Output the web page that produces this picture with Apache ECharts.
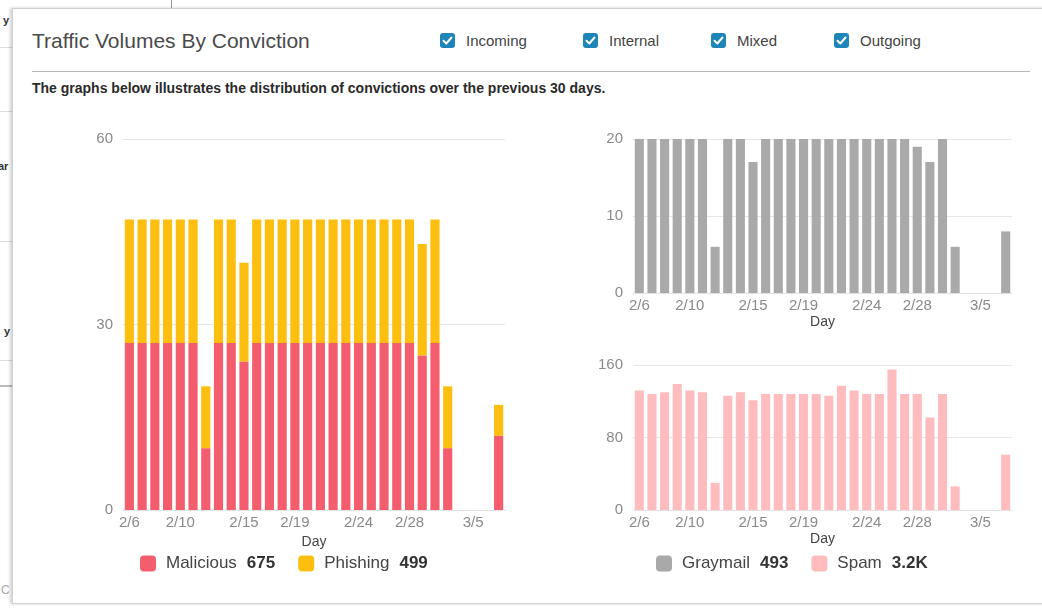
<!DOCTYPE html>
<html>
<head>
<meta charset="utf-8">
<script src="https://cdn.jsdelivr.net/npm/echarts@6/dist/echarts.min.js"></script>
<style>
  html, body { margin: 0; padding: 0; width: 1042px; height: 608px; overflow: hidden; background: #fff; font-family: "Liberation Sans", Arial, sans-serif; }
  .bg { position: absolute; }
  #panel { position: absolute; left: 12px; top: 8px; width: 1040px; height: 596px; background: #fff; border: 1px solid #d0d0d0; box-shadow: -2px 0 3px rgba(0,0,0,0.18); box-sizing: border-box; }
  #title { position: absolute; left: 32px; top: 29px; font-size: 21px; color: #4a4a4a; }
  .cb { position: absolute; top: 33px; height: 16px; font-size: 15px; color: #444; line-height: 16px; }
  .cb .box { position: absolute; left: 0; top: 0; width: 15px; height: 15px; border-radius: 3px; background: #1d85b8; }
  .cb .lbl { position: absolute; left: 26px; top: 0px; white-space: nowrap; }
  #sep { position: absolute; left: 32px; top: 71px; width: 998px; height: 1px; background: #b8b8b8; }
  #desc { position: absolute; left: 32px; top: 80px; font-size: 14px; font-weight: bold; color: #2a2a2a; white-space: nowrap; }
  #chart { position: absolute; left: 0; top: 0; width: 1042px; height: 608px; }
</style>
</head>
<body>
<!-- background page fragments -->
<div class="bg" style="left:171px;top:0;width:1px;height:8px;background:#999"></div>
<div class="bg" style="left:0;top:47px;width:12px;height:1px;background:#ddd"></div>
<div class="bg" style="left:0;top:111px;width:12px;height:1px;background:#ddd"></div>
<div class="bg" style="left:0;top:241px;width:12px;height:1px;background:#ddd"></div>
<div class="bg" style="left:0;top:360px;width:12px;height:1px;background:#ddd"></div>
<div class="bg" style="left:0;top:385px;width:12px;height:2px;background:#bbb"></div>
<div class="bg" style="left:3px;top:14px;font-size:11px;color:#333;font-weight:bold">y</div>
<div class="bg" style="left:-2px;top:160px;font-size:11px;color:#333;font-weight:bold">ar</div>
<div class="bg" style="left:4px;top:325px;font-size:11px;color:#333;font-weight:bold">y</div>
<div class="bg" style="left:1px;top:583px;font-size:12px;color:#aaa">C</div>

<div id="panel"></div>
<div id="title">Traffic Volumes By Conviction</div>
<div class="cb" style="left:440px"><span class="box"><svg width="15" height="15" viewBox="0 0 15 15"><path d="M3.5 7.8 L6.3 10.5 L11.5 4.5" stroke="#fff" stroke-width="2" fill="none" stroke-linecap="round" stroke-linejoin="round"/></svg></span><span class="lbl">Incoming</span></div>
<div class="cb" style="left:583px"><span class="box"><svg width="15" height="15" viewBox="0 0 15 15"><path d="M3.5 7.8 L6.3 10.5 L11.5 4.5" stroke="#fff" stroke-width="2" fill="none" stroke-linecap="round" stroke-linejoin="round"/></svg></span><span class="lbl">Internal</span></div>
<div class="cb" style="left:711px"><span class="box"><svg width="15" height="15" viewBox="0 0 15 15"><path d="M3.5 7.8 L6.3 10.5 L11.5 4.5" stroke="#fff" stroke-width="2" fill="none" stroke-linecap="round" stroke-linejoin="round"/></svg></span><span class="lbl">Mixed</span></div>
<div class="cb" style="left:834px"><span class="box"><svg width="15" height="15" viewBox="0 0 15 15"><path d="M3.5 7.8 L6.3 10.5 L11.5 4.5" stroke="#fff" stroke-width="2" fill="none" stroke-linecap="round" stroke-linejoin="round"/></svg></span><span class="lbl">Outgoing</span></div>
<div id="sep"></div>
<div id="desc">The graphs below illustrates the distribution of convictions over the previous 30 days.</div>
<div id="chart"></div>

<script>
const days = ['2/6','2/7','2/8','2/9','2/10','2/11','2/12','2/13','2/14','2/15','2/16','2/17','2/18','2/19','2/20','2/21','2/22','2/23','2/24','2/25','2/26','2/27','2/28','3/1','3/2','3/3','3/4','3/5','3/6','3/7'];
const shownTickLabels = ['2/6','2/10','2/15','2/19','2/24','2/28','3/5'];

const malicious = [27,27,27,27,27,27,10,27,27,24,27,27,27,27,27,27,27,27,27,27,27,27,27,25,27,10,0,0,0,12];
const phishing  = [20,20,20,20,20,20,10,20,20,16,20,20,20,20,20,20,20,20,20,20,20,20,20,18,20,10,0,0,0,5];
const graymail  = [20,20,20,20,20,20,6,20,20,17,20,20,20,20,20,20,20,20,20,20,20,20,19,17,20,6,0,0,0,8];
const spam      = [132,128,130,139,132,130,30,126,130,121,128,128,128,128,128,126,137,132,128,128,155,128,128,102,128,26,0,0,0,61];

const leftTicks = [0, 30, 60];
const topRightTicks = [0, 10, 20];
const bottomRightTicks = [0, 80, 160];

const COLORS = { Malicious: '#f45d6d', Phishing: '#fdbf0f', Graymail: '#a9a9a9', Spam: '#ffbcbf' };
const FONT = '"Liberation Sans", Arial, sans-serif';

const sum = a => a.reduce((s, v) => s + v, 0);
const fmt = v => v >= 1000 ? (v / 1000).toFixed(1) + 'K' : String(v);
const totals = { Malicious: fmt(sum(malicious)), Phishing: fmt(sum(phishing)), Graymail: fmt(sum(graymail)), Spam: fmt(sum(spam)) };

const grids = [
  { left: 123, right: 537, top: 139, bottom: 98 },
  { left: 633, right: 30, top: 139, bottom: 315 },
  { left: 633, right: 30, top: 365, bottom: 98 }
];

function xAxis(gi) {
  return {
    type: 'category', gridIndex: gi, data: days,
    name: 'Day', nameLocation: 'middle', nameGap: 22,
    nameTextStyle: { color: '#444', fontSize: 14, fontFamily: FONT },
    axisLine: { show: true, lineStyle: { color: '#e2e2e2' } },
    axisTick: { show: false },
    axisLabel: {
      color: '#8a8a8a', fontSize: 15, fontFamily: FONT, margin: 5,
      interval: (idx, val) => shownTickLabels.includes(val)
    }
  };
}
function yAxis(gi, ticks) {
  return {
    type: 'value', gridIndex: gi, min: ticks[0], max: ticks[ticks.length - 1], interval: ticks[1] - ticks[0],
    axisLine: { show: false }, axisTick: { show: false },
    splitLine: { lineStyle: { color: '#e6e6e6' } },
    axisLabel: { color: '#8a8a8a', fontSize: 15, fontFamily: FONT, margin: 10 }
  };
}
const legendCommon = {
  orient: 'horizontal', top: 555, padding: 0, itemWidth: 16, itemHeight: 16, itemGap: 23, icon: 'roundRect',
  selectedMode: false,
  formatter: name => `{n|${name}}{v|${totals[name]}}`,
  textStyle: {
    rich: {
      n: { fontSize: 17, color: '#444', fontFamily: FONT, padding: [0, 10, 0, 5] },
      v: { fontSize: 17, color: '#333', fontWeight: 'bold', fontFamily: FONT }
    }
  }
};

const bar = (name, data, xi, stack) => ({
  name, type: 'bar', data, xAxisIndex: xi, yAxisIndex: xi, stack,
  barCategoryGap: '28%', itemStyle: { color: COLORS[name] }, animation: false
});

const chart = echarts.init(document.getElementById('chart'), null, { renderer: 'canvas' });
chart.setOption({
  backgroundColor: 'transparent',
  animation: false,
  grid: grids,
  xAxis: [xAxis(0), xAxis(1), xAxis(2)],
  yAxis: [yAxis(0, leftTicks), yAxis(1, topRightTicks), yAxis(2, bottomRightTicks)],
  legend: [
    Object.assign({}, legendCommon, { left: 140, data: ['Malicious', 'Phishing'] }),
    Object.assign({}, legendCommon, { left: 656, data: ['Graymail', 'Spam'] })
  ],
  series: [
    bar('Malicious', malicious, 0, 'conv'),
    bar('Phishing', phishing, 0, 'conv'),
    bar('Graymail', graymail, 1),
    bar('Spam', spam, 2)
  ]
});
</script>
</body>
</html>
